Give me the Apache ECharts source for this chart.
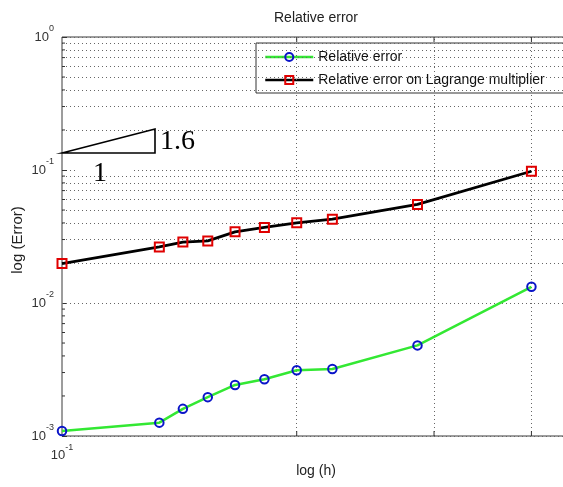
<!DOCTYPE html>
<html>
<head>
<meta charset="utf-8">
<script src="https://cdn.jsdelivr.net/npm/echarts@6/dist/echarts.min.js"></script>
<style>html,body{margin:0;padding:0;background:#fff;overflow:hidden;}#c{width:563px;height:487px;}</style>
</head>
<body>
<div id="c"></div>
<script>
// ---- data ----
const hValues = [0.1, 0.1333, 0.1429, 0.1538, 0.1667, 0.1818, 0.2, 0.2222, 0.2857, 0.4];
const relErr  = [0.00109, 0.00126, 0.00160, 0.00196, 0.00242, 0.00267, 0.00312, 0.00319, 0.00480, 0.01324];
const lagErr  = [0.0198, 0.0264, 0.0287, 0.0293, 0.0343, 0.0370, 0.0401, 0.0427, 0.0551, 0.0979];
const seriesNames = ['Relative error', 'Relative error on Lagrange multiplier'];
const xMinorTicks = [0.2, 0.3, 0.4];
const yMinorTicks = [0.002,0.003,0.004,0.005,0.006,0.007,0.008,0.009,
                     0.02,0.03,0.04,0.05,0.06,0.07,0.08,0.09,
                     0.2,0.3,0.4,0.5,0.6,0.7,0.8,0.9];

const FONT = '"Liberation Sans", Arial, Helvetica, sans-serif';
const SERIF = '"Liberation Serif", "Times New Roman", serif';

function supLabel(v){
  const e = Math.round(Math.log10(v));
  if (Math.abs(v/Math.pow(10,e) - 1) > 1e-6) return '';
  return '{b|10}{s|' + e + '}';
}
const rich = {
  b:{fontSize:13, color:'#333', fontFamily:FONT, padding:[0,0,6,0], verticalAlign:'bottom'},
  s:{fontSize:9, color:'#333', fontFamily:FONT, padding:[0,0,16,0], verticalAlign:'top'}
};

const chart = echarts.init(document.getElementById('c'), null, {renderer:'canvas'});
const dotted = {type:[1,3], color:'#666', width:1};

const option = {
  animation:false,
  grid:{left:62, top:37, width:545, height:399, outerBoundsMode:'none', containLabel:false,
    show:true, borderColor:'#3a3a3a', borderWidth:1, backgroundColor:'rgba(0,0,0,0)'},
  xAxis:{type:'log', logBase:10, min:0.1, max:0.5,
    axisLine:{show:false}, axisTick:{show:false}, splitLine:{show:false},
    axisLabel:{formatter:supLabel, rich:rich, margin:7}},
  yAxis:{type:'log', logBase:10, min:0.001, max:1,
    axisLine:{show:false},
    axisTick:{show:true, inside:true, length:5, lineStyle:{color:'#333'}},
    splitLine:{show:true, lineStyle:dotted},
    axisLabel:{formatter:supLabel, rich:rich, margin:8}},
  legend:{left:256, top:43, orient:'vertical', data:seriesNames,
    itemWidth:48, itemHeight:10, itemGap:9, padding:[7,40,6,8],
    backgroundColor:'#fff', borderColor:'#333', borderWidth:1, borderRadius:0,
    lineStyle:{width:2.5},
    textStyle:{fontSize:14, color:'#111', fontFamily:FONT}},
  graphic:[
    {type:'rect', z:5, shape:{x:140, y:115, width:88, height:40}, style:{fill:'#fff'}},
    {type:'rect', z:5, shape:{x:75, y:156, width:58, height:39}, style:{fill:'#fff'}},
    {type:'polygon', z:20, shape:{points:[[62,153],[155,129],[155,153]]}, style:{fill:'none', stroke:'#000', lineWidth:1.6}},
    {type:'text', z:20, x:160, y:142, style:{text:'1.6', font:'28px '+SERIF, fill:'#000', align:'left', verticalAlign:'middle', textAlign:'left', textVerticalAlign:'middle'}},
    {type:'text', z:20, x:100, y:174, style:{text:'1', font:'28px '+SERIF, fill:'#000', align:'center', verticalAlign:'middle', textAlign:'center', textVerticalAlign:'middle'}},
    {type:'text', z:20, x:316, y:18, style:{text:'Relative error', font:'14px '+FONT, fill:'#222', align:'center', verticalAlign:'middle', textAlign:'center', textVerticalAlign:'middle'}},
    {type:'text', z:20, x:316, y:471, style:{text:'log (h)', font:'14px '+FONT, fill:'#222', align:'center', verticalAlign:'middle', textAlign:'center', textVerticalAlign:'middle'}},
    {type:'text', z:20, x:18, y:240, rotation:Math.PI/2, style:{text:'log (Error)', font:'15px '+FONT, fill:'#222', align:'center', verticalAlign:'middle', textAlign:'center', textVerticalAlign:'middle'}}
  ],
  series:[
    {type:'line', name:'_grid', data:[], z:1, silent:true,
      markLine:{silent:true, symbol:['none','none'], label:{show:false}, lineStyle:dotted, animation:false,
        data:[].concat(xMinorTicks.map(v=>({xAxis:v})), yMinorTicks.map(v=>({yAxis:v})))}},
    {type:'custom', name:'_ticks', z:6, silent:true,
      data:yMinorTicks.map(v=>[0.1, v, 0]).concat(xMinorTicks.map(v=>[v, 0.001, 1]), xMinorTicks.map(v=>[v, 1, 2])),
      renderItem:function(params, api){
        const p = api.coord([api.value(0), api.value(1)]);
        const kind = api.value(2);
        let s;
        if (kind === 0) s = {x1:p[0], y1:p[1], x2:p[0]+3, y2:p[1]};
        else if (kind === 1) s = {x1:p[0], y1:p[1], x2:p[0], y2:p[1]-5};
        else s = {x1:p[0], y1:p[1], x2:p[0], y2:p[1]+5};
        return {type:'line', shape:s, style:{stroke:'#333', lineWidth:1}};
      }},
    {type:'line', name:seriesNames[0], z:8, data:hValues.map((h,i)=>[h, relErr[i]]),
      symbol:'circle', symbolSize:8.5,
      lineStyle:{color:'#33e833', width:2.5},
      itemStyle:{color:'rgba(0,0,0,0)', borderColor:'#0a14c8', borderWidth:2}},
    {type:'line', name:seriesNames[1], z:9, data:hValues.map((h,i)=>[h, lagErr[i]]),
      symbol:'rect', symbolSize:9,
      lineStyle:{color:'#000', width:2.8},
      itemStyle:{color:'rgba(0,0,0,0)', borderColor:'#e00000', borderWidth:2}}
  ]
};
chart.setOption(option);
</script>
</body>
</html>
